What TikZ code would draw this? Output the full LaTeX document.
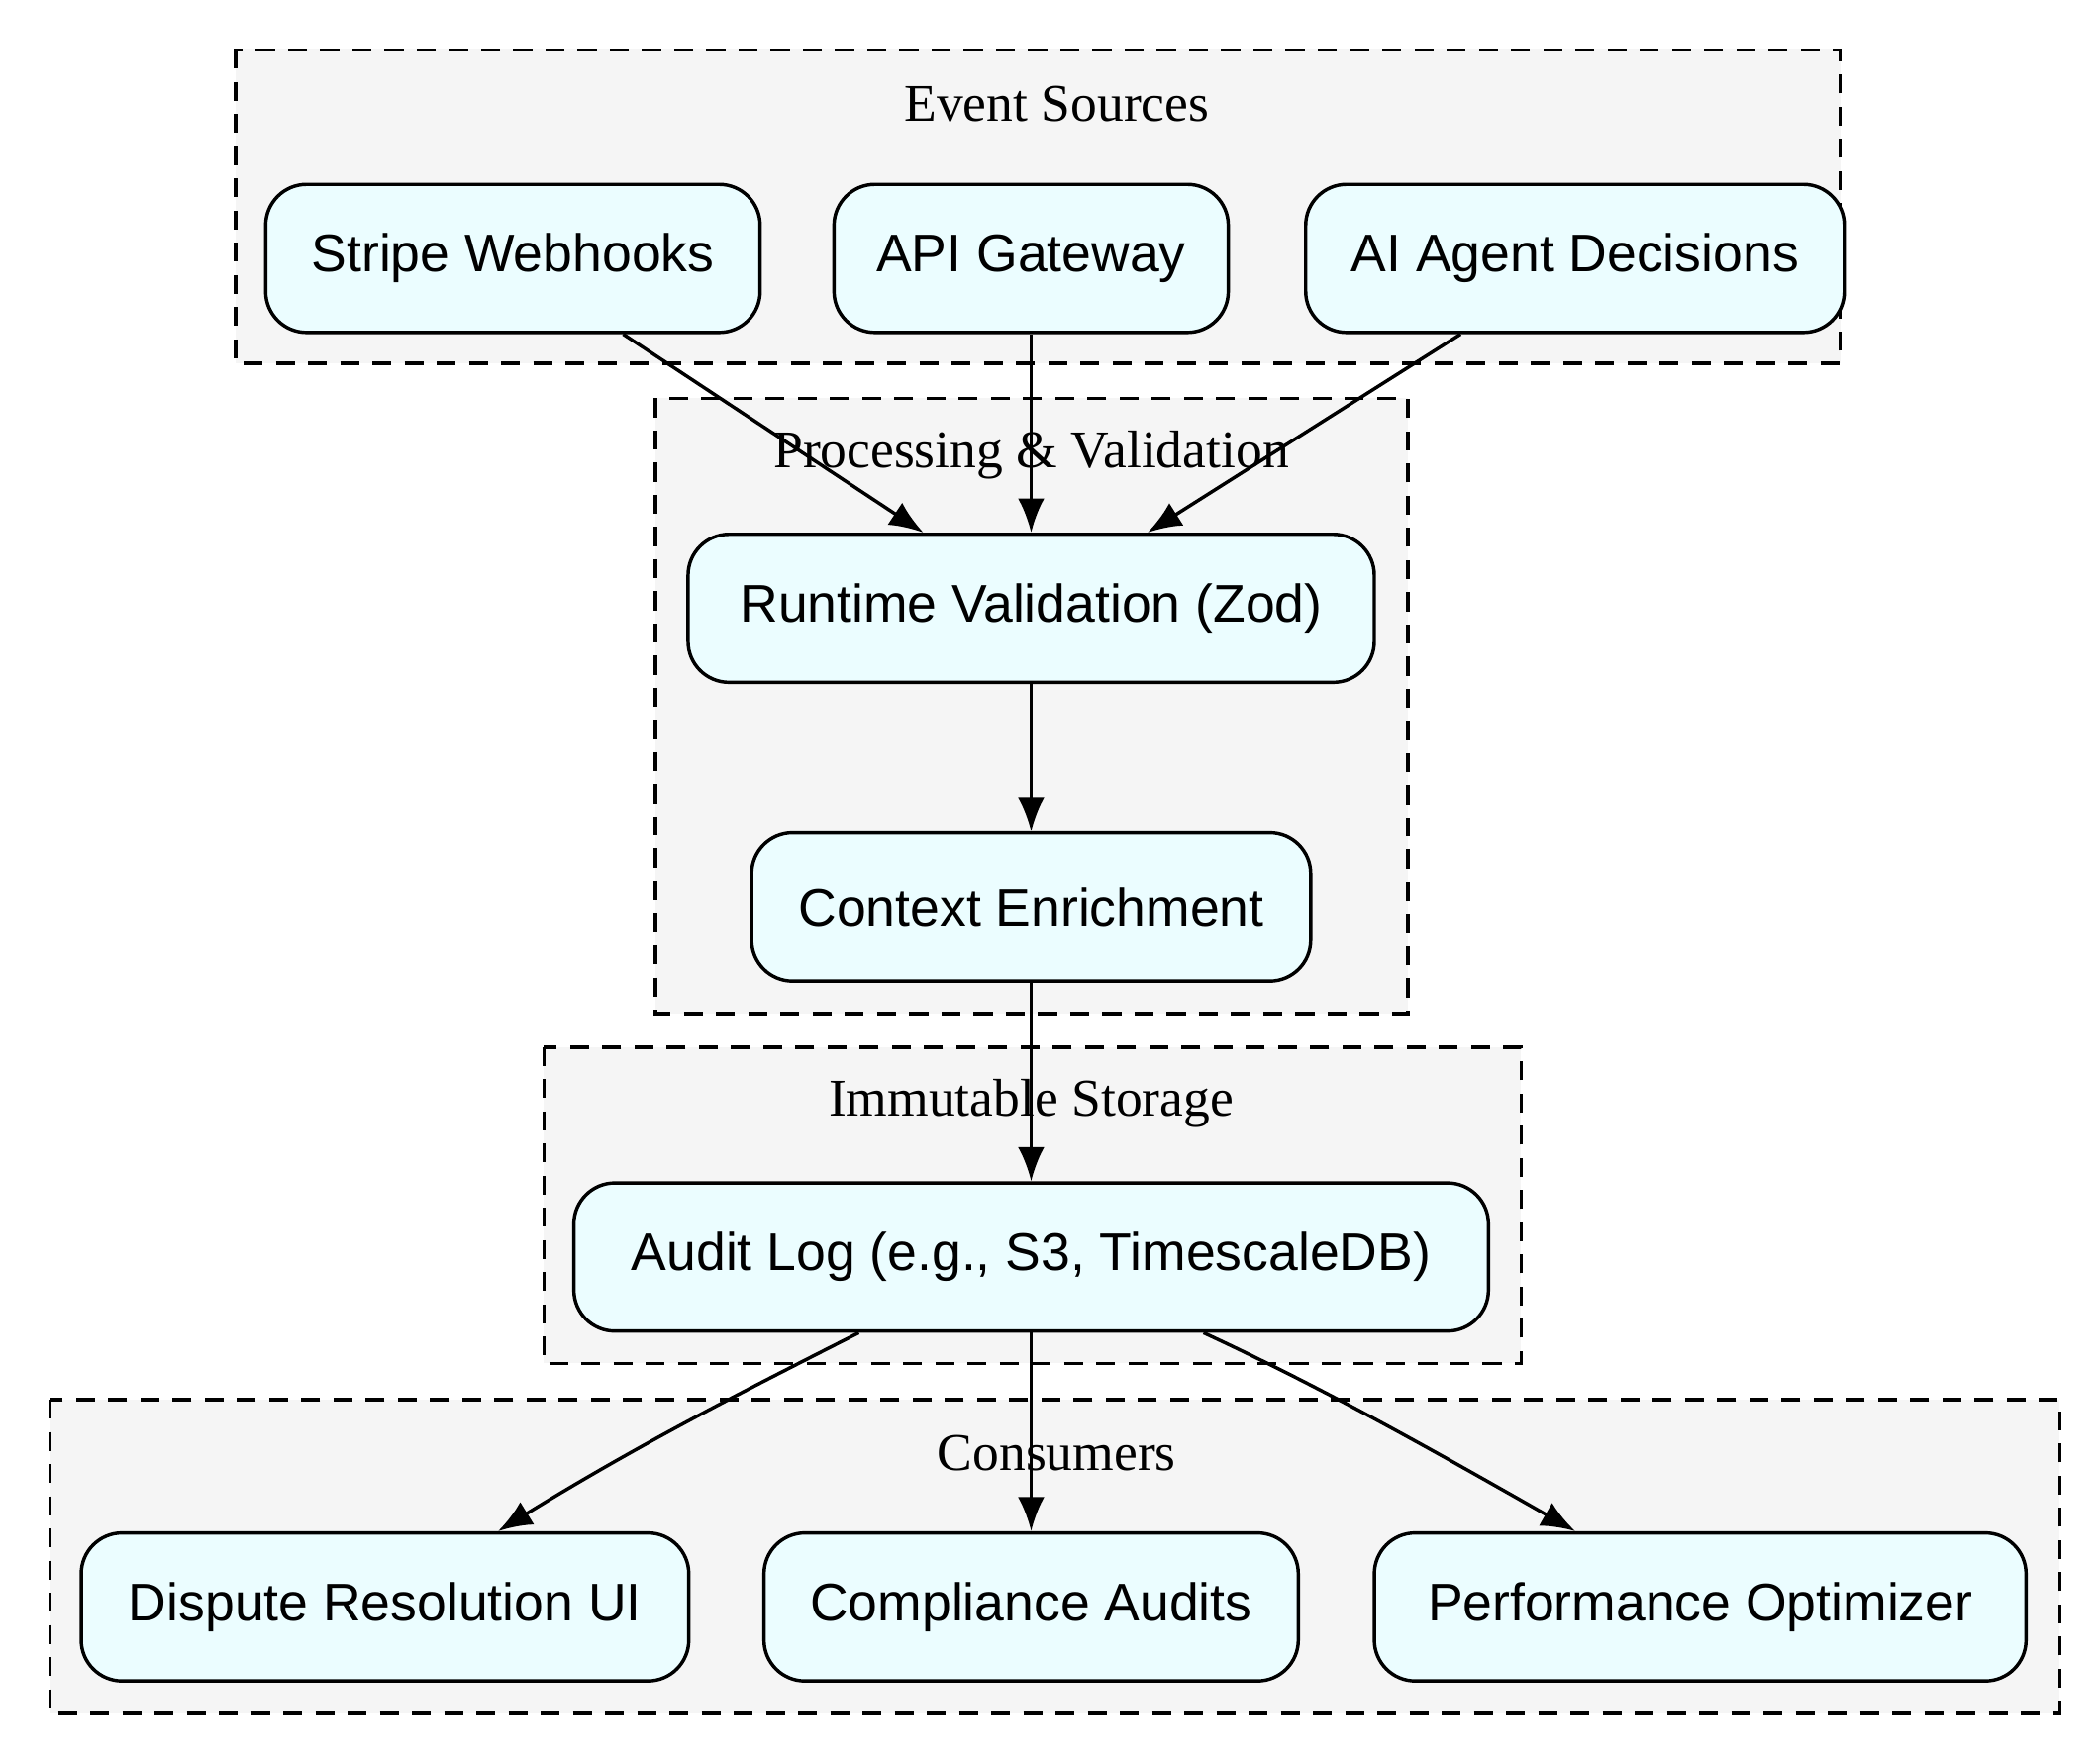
\documentclass[tikz,border=0pt]{standalone}
\usepackage{fontspec}
\setmainfont{Liberation Serif}
\newfontfamily\nodefont{Liberation Sans}
\usetikzlibrary{arrows.meta,positioning}

\tikzset{
  cluster/.style={draw,dashed,line width=0.9pt,fill=black!4,dash pattern=on 5pt off 3.5pt},
  clabel/.style={font=\fontsize{14}{16}\selectfont},
  box/.style={draw,line width=0.9pt,rounded corners=0.38cm,fill=blue!10!cyan!8,
    minimum height=1.375cm,inner sep=0pt,font=\nodefont\fontsize{14}{16}\selectfont},
  flow/.style={-{Latex[length=9pt,width=7pt]},line width=0.9pt}
}

\begin{document}
\begin{tikzpicture}[x=0.0125cm,y=-0.0125cm]
\useasboundingbox (0,0) rectangle (1560,1305);

% clusters
\draw[cluster] (175,37) rectangle (1367,270);
\node[clabel] (lsrc) at (785,77) {Event Sources};
\draw[cluster] (487,296) rectangle (1046,753);
\node[clabel] (lproc) at (766,338) {Processing \& Validation};
\draw[cluster] (404,778) rectangle (1130,1013);
\node[clabel] (lstore) at (766,820) {Immutable Storage};
\draw[cluster] (37,1040) rectangle (1530,1273);
\node[clabel] (lcons) at (785,1080) {Consumers};

% sources
\node[box,minimum width=4.59cm] (stripe) at (381,192) {Stripe Webhooks};
\node[box,minimum width=3.66cm] (api) at (766,192) {API Gateway};
\node[box,minimum width=5cm] (agent) at (1170,192) {AI Agent Decisions};

% processing
\node[box,minimum width=6.37cm] (valid) at (766,452) {Runtime Validation (Zod)};
\node[box,minimum width=5.19cm] (enrich) at (766,674) {Context Enrichment};

% storage
\node[box,minimum width=8.49cm] (audit) at (766,934) {Audit Log (e.g., S3, TimescaleDB)};

% consumers
\node[box,minimum width=5.64cm] (dispute) at (286,1194) {Dispute Resolution UI};
\node[box,minimum width=4.96cm] (comply) at (766,1194) {Compliance Audits};
\node[box,minimum width=6.05cm] (perf) at (1263,1194) {Performance Optimizer};

\draw[flow] (stripe.south east) ++(-103,0) -- ([xshift=-1cm]valid.north);
\draw[flow] (api) -- (valid);
\draw[flow] (agent.south) ++(-85,0) -- ([xshift=1.08cm]valid.north);
\draw[flow] (valid) -- (enrich);
\draw[flow] (enrich) -- (audit);
\draw[flow] ([xshift=-1.6cm]audit.south) .. controls (560,1030) and (480,1070) .. ([xshift=1.05cm]dispute.north);
\draw[flow] (audit) -- (comply);
\draw[flow] ([xshift=1.6cm]audit.south) .. controls (980,1030) and (1060,1075) .. ([xshift=-1.16cm]perf.north);
\end{tikzpicture}
\end{document}
